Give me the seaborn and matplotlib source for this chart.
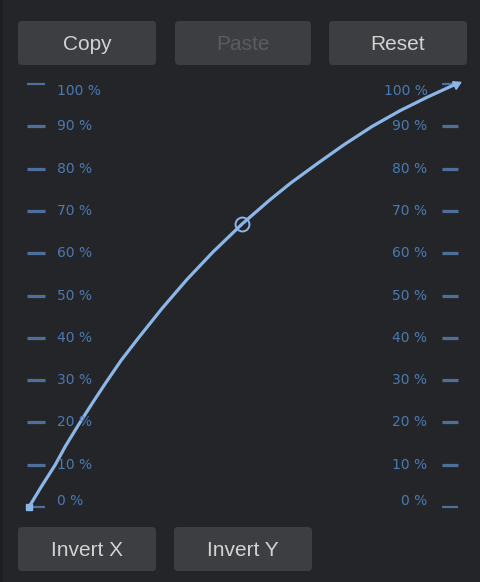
import matplotlib
matplotlib.use("Agg")
import matplotlib.pyplot as plt
from matplotlib.patches import FancyBboxPatch, Rectangle
import seaborn as sns
import pandas as pd

# curve points (input fraction -> output fraction)
curve_x = [0.0, 0.030, 0.061, 0.086, 0.117, 0.148, 0.180, 0.216, 0.255, 0.312, 0.370,
           0.431, 0.499, 0.564, 0.613, 0.674, 0.737, 0.804, 0.869, 0.933, 1.0]
curve_y = [0.0, 0.050, 0.099, 0.145, 0.196, 0.245, 0.294, 0.347, 0.398, 0.470, 0.538,
           0.603, 0.669, 0.726, 0.766, 0.811, 0.856, 0.900, 0.937, 0.969, 1.0]
handle = (0.499, 0.669)

levels = [0, 10, 20, 30, 40, 50, 60, 70, 80, 90, 100]
level_labels = [f"{v} %" for v in levels]

top_buttons = ["Copy", "Paste", "Reset"]
top_enabled = [True, False, True]
bottom_buttons = ["Invert X", "Invert Y"]

BG = "#242528"
BTN = "#3d3e41"
CURVE = "#8bb7e8"
LBL = "#4b79b1"
TICK = "#4e6f9c"

sns.set_theme(style="dark", rc={"figure.facecolor": BG, "axes.facecolor": BG})
plt.rcParams["font.family"] = ["DejaVu Sans"]

fig = plt.figure(figsize=(4.81, 5.82), dpi=100)

# background layer in pixel coords for the buttons
bg = fig.add_axes([0, 0, 1, 1])
bg.set_xlim(0, 481)
bg.set_ylim(582, 0)
bg.axis("off")
bg.add_patch(Rectangle((0, 0), 3, 582, color="#1d1e20", lw=0))

def button(x0, y0, x1, y1, text, enabled=True):
    bg.add_patch(FancyBboxPatch((x0 + 4, y0 + 4), x1 - x0 - 8, y1 - y0 - 8,
                                boxstyle="round,pad=4", fc=BTN, ec="none"))
    bg.text((x0 + x1) / 2, (y0 + y1) / 2 + 1, text, ha="center", va="center",
            fontsize=15, family="Liberation Sans",
            color="#d2d2d2" if enabled else "#5b5c5f")

top_x = [(18, 156), (175, 311), (329, 467)]
for (x0, x1), t, en in zip(top_x, top_buttons, top_enabled):
    button(x0, 21, x1, 65, t, en)
bot_x = [(18, 156), (174, 312)]
for (x0, x1), t in zip(bot_x, bottom_buttons):
    button(x0, 527, x1, 571, t)

# curve area
ax = fig.add_axes([29 / 481, 75 / 582, 427 / 481, 423 / 582])
ax.patch.set_alpha(0)

for v, lab in zip(levels, level_labels):
    y = v / 100
    lw = 1.6 if v in (0, 100) else 2.3
    ax.plot([-0.005, 0.037], [y, y], color=TICK, lw=lw, clip_on=False, solid_capstyle="butt")
    ax.plot([0.967, 1.005], [y, y], color=TICK, lw=lw, clip_on=False, solid_capstyle="butt")
    off = -5 if v == 100 else (4 if v == 0 else 0)
    ax.annotate(lab, (0.066, y), xytext=(0, off), textcoords="offset points",
                ha="left", va="center", fontsize=10, color=LBL)
    ax.annotate(lab, (0.933, y), xytext=(0, off), textcoords="offset points",
                ha="right", va="center", fontsize=10, color=LBL)

df = pd.DataFrame({"x": curve_x, "y": curve_y})
sns.lineplot(data=df, x="x", y="y", ax=ax, color=CURVE, lw=2.3, sort=False,
             estimator=None, clip_on=False)

ax.plot([curve_x[0]], [curve_y[0]], marker="s", ms=5, color=CURVE, clip_on=False)
ax.plot([curve_x[-1]], [curve_y[-1]], marker=(3, 0, -64), ms=7, color=CURVE, clip_on=False)
ax.plot([handle[0]], [handle[1]], marker="o", ms=10, mfc="none", mec=CURVE, mew=1.4,
        clip_on=False)

ax.set_xlim(0, 1)
ax.set_ylim(0, 1)
ax.axis("off")

fig.savefig("out.png", dpi=100, facecolor=BG)
